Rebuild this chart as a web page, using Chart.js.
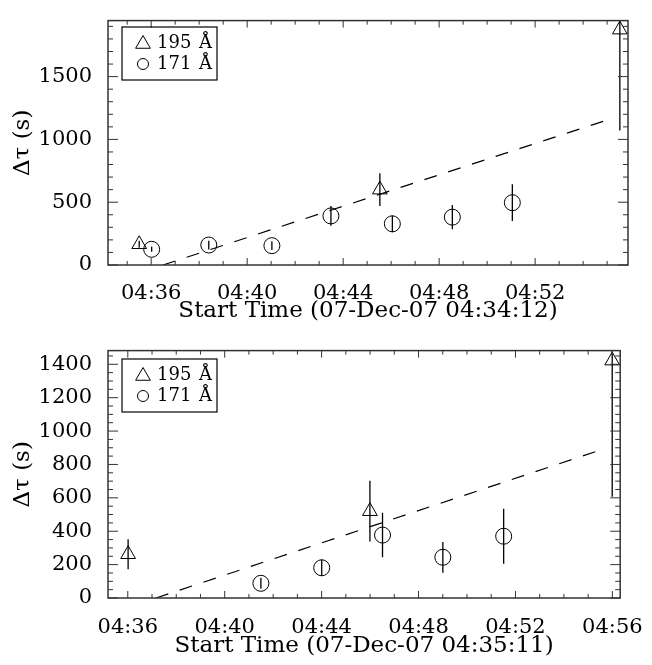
<!DOCTYPE html>
<html>
<head>
<meta charset="utf-8">
<script src="https://cdn.jsdelivr.net/npm/chart.js"></script>
<style>
  body { margin: 0; background: #fff; }
  canvas { display: block; }
</style>
</head>
<body>
<canvas id="top" width="652" height="330"></canvas>
<canvas id="bottom" width="652" height="335"></canvas>
<script>
// x values are minutes after the panel's start time
const topStart = '04:34:12'
const topX195 = [1.30, 11.33, 21.33]
const topY195 = [165, 600, 1874]
const topErr195 = [28, 130, 804]
const topX171 = [1.82, 4.20, 6.83, 9.29, 11.85, 14.35, 16.85]
const topY171 = [125, 159, 154, 391, 328, 381, 496]
const topErr171 = [20, 35, 35, 79, 67, 97, 146]
const topFitX = [2.29, 20.75]
const topFitY = [0, 1151]
const topXTicks = ['04:36', '04:40', '04:44', '04:48', '04:52']
const topYTicks = [0, 500, 1000, 1500]

const botStart = '04:35:11'
const botX195 = [0.83, 10.81, 20.81]
const botY195 = [262, 520, 1422]
const botErr195 = [90, 182, 816]
const botX171 = [6.31, 8.82, 11.33, 13.82, 16.33]
const botY171 = [88, 181, 377, 244, 370]
const botErr171 = [33, 49, 133, 92, 165]
const botFitX = [1.98, 20.23]
const botFitY = [0, 882]
const botXTicks = ['04:36', '04:40', '04:44', '04:48', '04:52', '04:56']
const botYTicks = [0, 200, 400, 600, 800, 1000, 1200, 1400]

const legendLabels = ['195 Å', '171 Å']

const TICKFONT = { family: '"DejaVu Serif", serif', size: 21 }
const TITLEFONT = { family: '"DejaVu Serif", serif', size: 23 }

function toMin(s) {
  const p = s.split(':').map(Number)
  return p[0] * 60 + p[1] + (p[2] || 0) / 60
}

function drawTri(ctx, x, y, r) {
  ctx.beginPath()
  ctx.moveTo(x, y - r)
  ctx.lineTo(x + 0.866 * r, y + 0.5 * r)
  ctx.lineTo(x - 0.866 * r, y + 0.5 * r)
  ctx.closePath()
  ctx.stroke()
}

const idlPlugin = {
  id: 'idl',
  beforeDatasetsDraw(chart) {
    const { ctx, chartArea: a } = chart
    const xs = chart.scales.x, ys = chart.scales.y
    ctx.save()
    ctx.beginPath()
    ctx.rect(a.left, a.top, a.right - a.left, a.bottom - a.top)
    ctx.clip()
    ctx.strokeStyle = '#000'
    ctx.lineWidth = 1.3
    chart.data.datasets.forEach(ds => {
      if (!ds.errors) return
      ds.data.forEach((p, i) => {
        const px = xs.getPixelForValue(p.x)
        ctx.beginPath()
        ctx.moveTo(px, ys.getPixelForValue(p.y - ds.errors[i]))
        ctx.lineTo(px, ys.getPixelForValue(p.y + ds.errors[i]))
        ctx.stroke()
      })
    })
    ctx.restore()
  },
  afterDraw(chart, args, opts) {
    const { ctx, chartArea: a } = chart
    const xs = chart.scales.x, ys = chart.scales.y
    ctx.save()
    ctx.strokeStyle = '#333'
    ctx.lineWidth = 1.5
    ctx.strokeRect(a.left, a.top, a.right - a.left, a.bottom - a.top)
    ctx.lineWidth = 1
    ctx.beginPath()
    xs.ticks.forEach(t => {
      const px = xs.getPixelForValue(t.value)
      const len = t.lab ? 7 : 4
      ctx.moveTo(px, a.bottom); ctx.lineTo(px, a.bottom - len)
      ctx.moveTo(px, a.top); ctx.lineTo(px, a.top + len)
    })
    ys.ticks.forEach(t => {
      const py = ys.getPixelForValue(t.value)
      const len = t.lab ? 10 : 5
      ctx.moveTo(a.left, py); ctx.lineTo(a.left + len, py)
      ctx.moveTo(a.right, py); ctx.lineTo(a.right - len, py)
    })
    ctx.stroke()

    // legend box
    const b = opts.box
    ctx.strokeStyle = '#000'
    ctx.lineWidth = 1.2
    ctx.strokeRect(b.x, b.y, b.w, b.h)
    ctx.lineWidth = 1
    ctx.fillStyle = '#000'
    ctx.font = '18px "DejaVu Serif"'
    ctx.textBaseline = 'middle'
    const rows = [b.y + 16, b.y + 37]
    drawTri(ctx, b.x + 21, rows[0] + 1, 8.5)
    ctx.beginPath()
    ctx.arc(b.x + 21, rows[1], 5.5, 0, Math.PI * 2)
    ctx.stroke()
    legendLabels.forEach((l, i) => {
      const parts = l.split(' ')
      ctx.textAlign = 'left'
      ctx.fillText(parts[0], b.x + 35, rows[i])
      ctx.textAlign = 'right'
      ctx.fillText(parts[1], b.x + b.w - 5, rows[i])
    })
    ctx.restore()
  }
}

function makeChart(id, p) {
  const start = toMin(p.start)
  const majorX = p.xTicks.map(l => ({ v: toMin(l) - start, l }))
  return new Chart(document.getElementById(id), {
    type: 'scatter',
    data: {
      datasets: [
        {
          label: legendLabels[0],
          data: p.x195.map((x, i) => ({ x, y: p.y195[i] })),
          errors: p.err195,
          pointStyle: 'triangle', radius: 8.5, borderWidth: 1,
          borderColor: '#000', backgroundColor: 'rgba(0,0,0,0)', clip: false
        },
        {
          label: legendLabels[1],
          data: p.x171.map((x, i) => ({ x, y: p.y171[i] })),
          errors: p.err171,
          pointStyle: 'circle', radius: 8, borderWidth: 1,
          borderColor: '#000', backgroundColor: 'rgba(0,0,0,0)', clip: false
        },
        {
          label: 'fit',
          data: p.fitX.map((x, i) => ({ x, y: p.fitY[i] })),
          showLine: true, pointRadius: 0, borderWidth: 1.2,
          borderColor: '#000', borderDash: [13, 12]
        }
      ]
    },
    options: {
      responsive: false,
      animation: false,
      layout: { padding: { top: p.padTop, right: 24, left: 0, bottom: 0 } },
      plugins: {
        legend: { display: false },
        tooltip: { enabled: false },
        idl: { box: p.box }
      },
      scales: {
        x: {
          type: 'linear', min: 0, max: p.xMax,
          grid: { display: false }, border: { display: false },
          afterBuildTicks: s => {
            const t = []
            const first = Math.ceil(start) - start
            for (let v = first; v <= p.xMax + 1e-9; v += 1) {
              const m = majorX.find(o => Math.abs(o.v - v) < 1e-6)
              t.push({ value: v, lab: m ? m.l : '' })
            }
            s.ticks = t
          },
          afterFit: s => { s.height = p.xHeight },
          ticks: {
            autoSkip: false, maxRotation: 0, minRotation: 0, padding: p.xPad,
            color: '#000', font: TICKFONT,
            callback: (v, i, t) => t[i].lab
          },
          title: {
            display: true, text: 'Start Time (07-Dec-07 ' + p.start + ')',
            color: '#000', font: TITLEFONT, padding: { top: 0, bottom: 5 }
          }
        },
        y: {
          min: 0, max: p.yMax,
          grid: { display: false }, border: { display: false },
          afterBuildTicks: s => {
            const t = []
            for (let v = 0; v <= p.yMax; v += p.yMinor) {
              t.push({ value: v, lab: p.yTicks.includes(v) ? String(v) : '' })
            }
            s.ticks = t
          },
          afterFit: s => { s.width = 108 },
          ticks: {
            autoSkip: false, padding: 8, color: '#000', font: TICKFONT,
            callback: (v, i, t) => t[i].lab
          },
          title: {
            display: true, text: 'Δτ (s)', color: '#000', font: TITLEFONT,
            padding: { top: 9, bottom: 0 }
          }
        }
      }
    },
    plugins: [idlPlugin]
  })
}

makeChart('top', {
  start: topStart, x195: topX195, y195: topY195, err195: topErr195,
  x171: topX171, y171: topY171, err171: topErr171,
  fitX: topFitX, fitY: topFitY, xTicks: topXTicks, yTicks: topYTicks,
  xMax: 21.67, yMax: 1946, yMinor: 100, padTop: 5, xHeight: 65, xPad: 8,
  box: { x: 122, y: 27, w: 95, h: 53 }
})

makeChart('bottom', {
  start: botStart, x195: botX195, y195: botY195, err195: botErr195,
  x171: botX171, y171: botY171, err171: botErr171,
  fitX: botFitX, fitY: botFitY, xTicks: botXTicks, yTicks: botYTicks,
  xMax: 21.14, yMax: 1482, yMinor: 50, padTop: 8, xHeight: 67, xPad: 9,
  box: { x: 122, y: 29, w: 95, h: 53 }
})
</script>
</body>
</html>
